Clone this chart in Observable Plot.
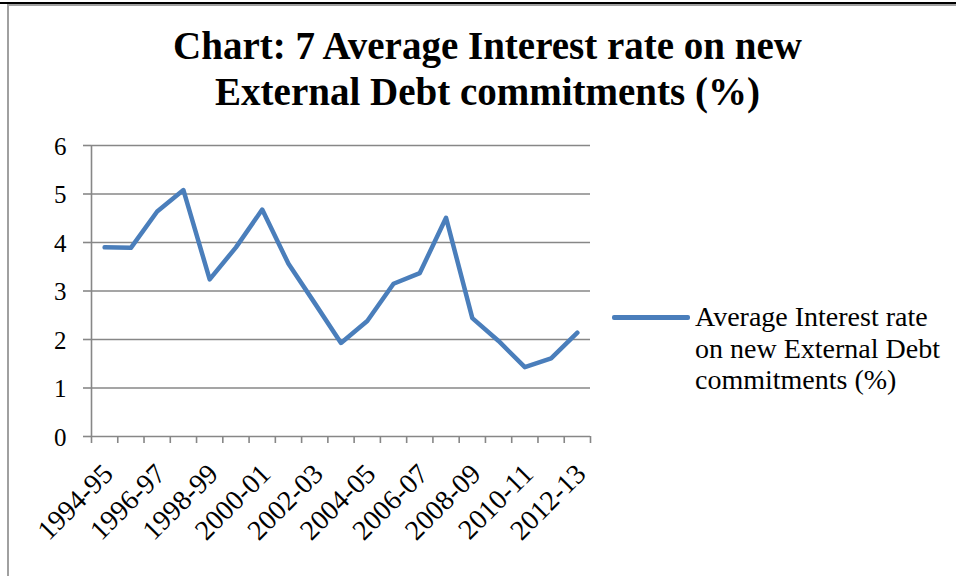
<!DOCTYPE html>
<html>
<head>
<meta charset="utf-8">
<script src="https://cdn.jsdelivr.net/npm/d3@7"></script>
<script src="https://cdn.jsdelivr.net/npm/@observablehq/plot@0.6"></script>
<style>
  html, body { margin: 0; padding: 0; background: #fff; }
  #wrap { position: relative; width: 956px; height: 576px; overflow: hidden; background: #fff; }
  #topline { position: absolute; left: 0; top: 2px; width: 956px; height: 2px; background: #000; }
  #frame { position: absolute; left: 7px; top: 4px; width: 960px; height: 600px; border-left: 2px solid #a0a0a0; border-top: 2px solid #a0a0a0; }
  #title { position: absolute; left: 0; top: 23px; width: 975px; text-align: center;
           font-family: "Liberation Serif", serif; font-weight: bold; font-size: 39px; line-height: 46px; color: #000; }
  #chart { position: absolute; left: 0; top: 125px; }
  #legend { position: absolute; left: 612px; top: 301px; }
  #legend .sw { position: absolute; left: 0; top: 14px; width: 78px; height: 4.5px; background: #4a7ebb; border-radius: 2px; }
  #legend .tx { position: absolute; left: 83px; top: 0; width: 300px; white-space: nowrap; font-family: "Liberation Serif", serif; font-size: 28px; line-height: 31.5px; color: #000; }
</style>
</head>
<body>
<div id="wrap">
  <div id="topline"></div>
  <div id="frame"></div>
  <div id="title">Chart: 7 Average Interest rate on new<br>External Debt commitments (%)</div>
  <div id="chart"></div>
  <div id="legend"><div class="sw"></div><div class="tx">Average Interest rate<br>on new External Debt<br>commitments (%)</div></div>
</div>
<script>
const categories = ["1994-95","1995-96","1996-97","1997-98","1998-99","1999-00","2000-01","2001-02","2002-03","2003-04","2004-05","2005-06","2006-07","2007-08","2008-09","2009-10","2010-11","2011-12","2012-13"];
const values = [3.90, 3.89, 4.64, 5.08, 3.24, 3.90, 4.68, 3.56, 2.75, 1.93, 2.38, 3.15, 3.37, 4.51, 2.44, 1.97, 1.43, 1.61, 2.14];
const yTicks = [0, 1, 2, 3, 4, 5, 6];

const data = categories.map((c, i) => ({i, cat: c, v: values[i]}));
const boundaries = d3.range(-0.5, categories.length, 1);
const labelled = data.filter(d => d.i % 2 === 0);
const grid = "#878787";

const plot = Plot.plot({
  width: 956,
  height: 451,
  marginLeft: 91,
  marginRight: 366,
  marginTop: 20,
  marginBottom: 140,
  style: {fontFamily: "Liberation Serif, serif", background: "transparent", overflow: "visible"},
  x: {type: "linear", domain: [-0.5, categories.length - 0.5], axis: null},
  y: {domain: [0, 6], axis: null},
  marks: [
    Plot.ruleY(yTicks, {stroke: grid, strokeWidth: 1.6}),
    Plot.ruleX([-0.5], {y1: 0, y2: 6, stroke: grid, strokeWidth: 1.6}),
    Plot.axisY(yTicks, {anchor: "left", label: null, tickSize: 8, stroke: grid, strokeWidth: 1.6, tickFormat: () => ""}),
    Plot.text(yTicks, {y: d => d, text: d => String(d), frameAnchor: "left", dx: -25, dy: 1, textAnchor: "end", lineAnchor: "middle", fontSize: 25, fill: "#000"}),
    Plot.axisX(boundaries, {anchor: "bottom", label: null, tickSize: 7, stroke: grid, strokeWidth: 1.6, tickFormat: () => ""}),
    Plot.text(labelled, {x: "i", text: "cat", frameAnchor: "bottom", rotate: -45, textAnchor: "end", lineAnchor: "bottom", dx: 10, dy: 39, fontSize: 28, fill: "#000"}),
    Plot.line(data, {x: "i", y: "v", stroke: "#4a7ebb", strokeWidth: 4.5, strokeLinejoin: "round", strokeLinecap: "round"})
  ]
});
document.getElementById("chart").appendChild(plot);
</script>
</body>
</html>
